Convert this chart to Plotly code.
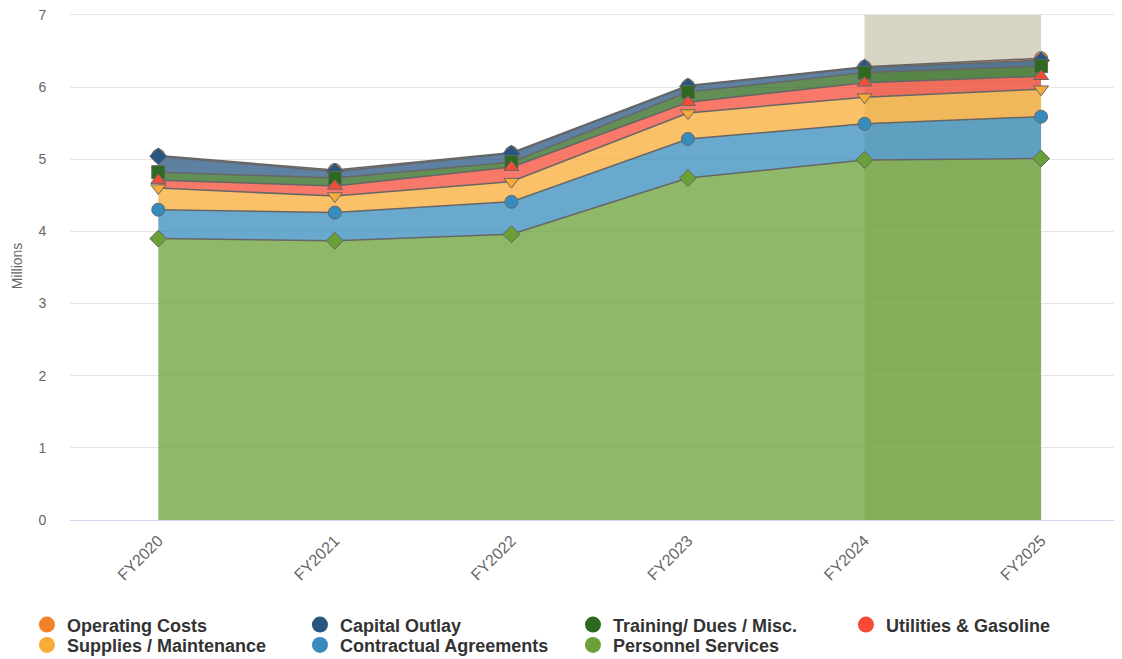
import plotly.graph_objects as go
import numpy as np

years = ["FY2020", "FY2021", "FY2022", "FY2023", "FY2024", "FY2025"]

# values in millions (stacked from bottom to top)
personnel = [3.90, 3.87, 3.96, 4.74, 4.99, 5.01]
contractual = [0.40, 0.39, 0.45, 0.54, 0.50, 0.58]
supplies = [0.30, 0.23, 0.28, 0.36, 0.37, 0.38]
utilities = [0.11, 0.14, 0.20, 0.15, 0.20, 0.18]
training = [0.11, 0.11, 0.07, 0.14, 0.14, 0.14]
capital = [0.22, 0.09, 0.12, 0.08, 0.07, 0.08]
operating = [0.01, 0.02, 0.01, 0.01, 0.01, 0.03]

series = [
    ("Personnel Services", personnel, (105, 160, 55), "diamond"),
    ("Contractual Agreements", contractual, (55, 140, 190), "circle"),
    ("Supplies / Maintenance", supplies, (248, 172, 55), "triangle-down"),
    ("Utilities & Gasoline", utilities, (245, 75, 55), "triangle-up"),
    ("Training/ Dues / Misc.", training, (45, 105, 30), "square"),
    ("Capital Outlay", capital, (40, 85, 130), "diamond"),
    ("Operating Costs", operating, (240, 130, 40), "circle"),
]

fig = go.Figure()

# stacked areas (bottom first)
for name, vals, (r, g, b), sym in series:
    fig.add_trace(go.Scatter(
        x=years, y=vals, name=name, stackgroup="one",
        mode="lines",
        line=dict(color="#666666", width=1.5),
        fillcolor=f"rgba({r},{g},{b},0.75)",
        showlegend=False, hoverinfo="skip",
    ))

# markers at stacked positions, top series drawn first so lower series sit on top
cum = np.cumsum(np.array([s[1] for s in series]), axis=0)
for i in reversed(range(len(series))):
    name, vals, (r, g, b), sym = series[i]
    fig.add_trace(go.Scatter(
        x=years, y=cum[i], name=name, mode="markers",
        marker=dict(symbol=sym, size=13, color=f"rgb({r},{g},{b})",
                    line=dict(color="#666666", width=1)),
        customdata=vals, hovertemplate="%{x}<br>" + name + ": %{customdata:.2f}M<extra></extra>",
        showlegend=False,
    ))

# legend entries (circle symbols): first row in legend, second row in legend2
legend_order = list(reversed(series))
for k, (name, vals, (r, g, b), sym) in enumerate(legend_order):
    fig.add_trace(go.Scatter(
        x=[None], y=[None], name=name, mode="markers",
        marker=dict(symbol="circle", size=18, color=f"rgb({r},{g},{b})"),
        showlegend=True, legend="legend" if k < 4 else "legend2",
    ))

fig.add_shape(type="rect", xref="x", yref="y", x0=4, x1=5, y0=0, y1=7,
              fillcolor="#d8d5c5", line=dict(width=0), layer="below")

legend_common = dict(
    orientation="h", xanchor="left", yanchor="top",
    font=dict(size=18, color="#333333", family="Liberation Sans, Arial, sans-serif", weight="bold"),
    entrywidth=228, entrywidthmode="pixels",
    traceorder="normal", itemsizing="trace", tracegroupgap=0,
    bgcolor="rgba(0,0,0,0)",
)

# page body adds an 8px margin; figure is sized to compensate
fig.update_layout(
    width=1114, height=651,
    margin=dict(l=62, r=2, t=4, b=139, autoexpand=False),
    paper_bgcolor="white", plot_bgcolor="white",
    font=dict(family="Liberation Sans, Arial, sans-serif", color="#666666"),
    showlegend=True,
    legend=dict(x=-0.041, y=-0.170, **legend_common),
    legend2=dict(x=-0.041, y=-0.210, **legend_common),
    xaxis=dict(
        type="category", range=[-0.5, 5.447],
        tickangle=-45, tickfont=dict(size=16, color="#666666"),
        showgrid=False, showline=True, linecolor="#ccd6eb", linewidth=1,
        ticks="outside", ticklen=4, tickcolor="rgba(0,0,0,0)", zeroline=False,
    ),
    yaxis=dict(
        range=[0, 7.04], dtick=1, tick0=0, tickmode="linear",
        showgrid=True, gridcolor="#e6e6e6", gridwidth=1,
        zeroline=False, showline=False,
        ticks="outside", ticklen=20, tickcolor="rgba(0,0,0,0)",
        ticklabeloverflow="allow",
        tickfont=dict(size=14, color="#666666"),
        title=dict(text="Millions", font=dict(size=14, color="#666666"), standoff=12),
    ),
)

fig.write_html("out.html")
